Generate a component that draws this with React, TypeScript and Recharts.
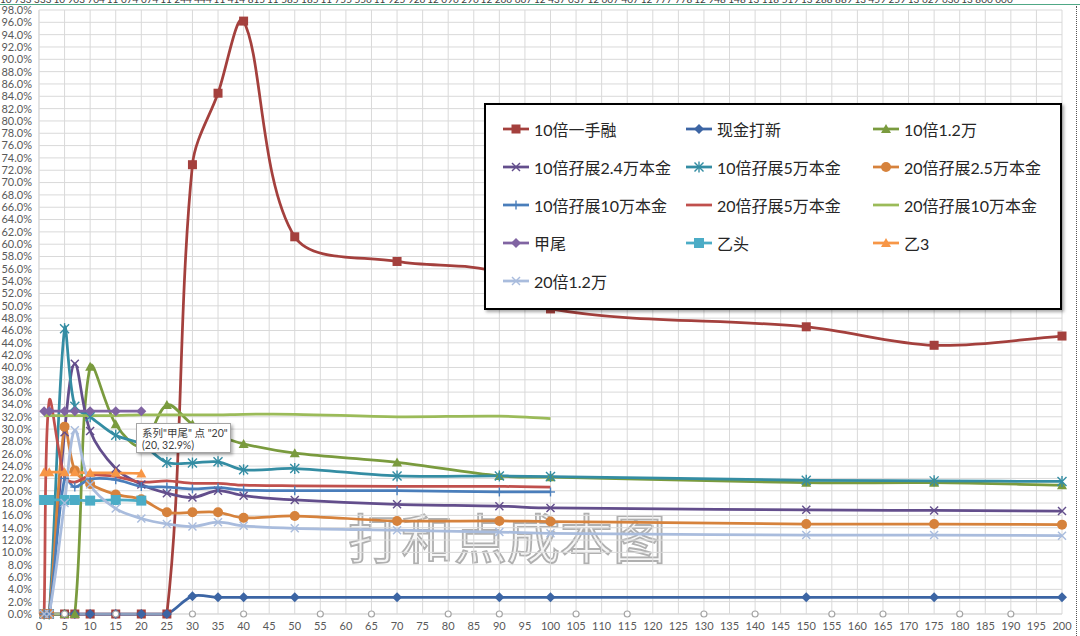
import React from 'react';
import { LineChart, Line, XAxis, YAxis, CartesianGrid } from 'recharts';

// x positions (shares / 万) used by the series
const X_ALL = [1, 2, 5, 7, 10, 15, 20, 25, 30, 35, 40, 50, 70, 90, 100, 150, 175, 200];
const X_TO_100 = [1, 2, 5, 7, 10, 15, 20, 25, 30, 35, 40, 50, 70, 90, 100];
const X_TO_20 = [1, 2, 5, 7, 10, 15, 20];
const X_EMPTY = [5, 15, 30, 40, 55, 65, 80, 90, 105, 115, 130, 140, 155, 165, 180, 190];

// break-even cost, in %
const tenXOneLot = [0, 0, 0, 0, 0, 0, 0, 0, 72.9, 84.5, 96.2, 61.2, 57.2, 55.4, 49.5, 46.6, 43.6, 45.1];
const cashSub = [0, 0, 0, 0, 0, 0, 0, 0, 2.9, 2.7, 2.7, 2.7, 2.7, 2.7, 2.7, 2.7, 2.7, 2.7];
const tenX12k = [0, 0, 0, 0, 40.1, 30.8, 27.2, 33.9, 30.8, 29.0, 27.6, 26.1, 24.6, 22.4, 22.2, 21.3, 21.3, 20.9];
const margin10x24k = [0, 0, 29.5, 40.6, 29.7, 23.6, 21.0, 19.6, 18.9, 20.0, 19.2, 18.5, 17.8, 17.5, 17.2, 16.9, 16.8, 16.7];
const margin10x50k = [0, 0, 46.3, 33.7, 32.0, 29.0, 27.6, 24.6, 24.5, 24.7, 23.4, 23.6, 22.4, 22.4, 22.3, 21.7, 21.6, 21.5];
const margin20x25k = [0, 0, 30.4, 23.3, 21.1, 19.4, 18.6, 16.5, 16.5, 16.5, 15.6, 15.9, 15.1, 15.1, 15.0, 14.6, 14.6, 14.5];
const margin10x100k = [0, 0, 22.0, 20.6, 21.9, 21.8, 20.7, 20.6, 20.3, 20.5, 20.1, 20.0, 20.0, 19.8, 19.8];
const margin20x50k = [0, 34.6, 22.2, 21.4, 22.5, 22.3, 21.4, 21.6, 21.2, 21.2, 20.9, 20.8, 20.7, 20.7, 20.6];
const margin20x100k = [32.2, 32.2, 32.2, 32.2, 32.2, 32.2, 32.3, 32.3, 32.3, 32.3, 32.4, 32.4, 32.0, 32.1, 31.7];
const jiaWei = [32.9, 32.9, 32.9, 32.9, 32.9, 32.9, 32.9];
const yiTou = [18.5, 18.5, 18.5, 18.5, 18.4, 18.5, 18.4];
const yi3 = [23.0, 23.0, 23.0, 23.0, 22.9, 22.9, 22.8];
const twentyX12k = [0, 0, 18.0, 29.8, 21.0, 17.1, 15.5, 14.6, 14.2, 14.9, 14.3, 13.9, 13.6, 13.3, 13.1, 12.8, 12.8, 12.7];
const emptyMarks = [0, 0, 0, 0, 0, 0, 0, 0, 0, 0, 0, 0, 0, 0, 0, 0];

const X_TICKS = Array.from({ length: 41 }, (_, i) => i * 5);
const Y_TICKS = Array.from({ length: 50 }, (_, i) => i * 2);

// half-hidden spreadsheet row above the chart
const topRowLabels = [
  '10 733 333', '10 903 704', '11 074 074', '11 244 444', '11 414 815', '11 585 185', '11 755 556',
  '11 925 926', '12 096 296', '12 266 667', '12 437 037', '12 607 407', '12 777 778', '12 948 148',
  '13 118 519', '13 288 889', '13 459 259', '13 629 630', '13 800 000',
];

type MarkerKind = 'square' | 'diamond' | 'triangle' | 'x' | 'star' | 'circle' | 'plus' | 'none' | 'hollow';

const SERIES: { name: string; xs: number[]; ys: number[]; color: string; marker: MarkerKind; size: number }[] = [
  { name: '10倍一手融', xs: X_ALL, ys: tenXOneLot, color: '#A4403D', marker: 'square', size: 9 },
  { name: '现金打新', xs: X_ALL, ys: cashSub, color: '#3C65A4', marker: 'diamond', size: 10 },
  { name: '10倍1.2万', xs: X_ALL, ys: tenX12k, color: '#7A9B3E', marker: 'triangle', size: 10 },
  { name: '10倍孖展2.4万本金', xs: X_ALL, ys: margin10x24k, color: '#634E8C', marker: 'x', size: 8 },
  { name: '10倍孖展5万本金', xs: X_ALL, ys: margin10x50k, color: '#348DA3', marker: 'star', size: 9 },
  { name: '20倍孖展2.5万本金', xs: X_ALL, ys: margin20x25k, color: '#D6823C', marker: 'circle', size: 10 },
  { name: '10倍孖展10万本金', xs: X_TO_100, ys: margin10x100k, color: '#4A7EBB', marker: 'plus', size: 9 },
  { name: '20倍孖展5万本金', xs: X_TO_100, ys: margin20x50k, color: '#C0504D', marker: 'none', size: 0 },
  { name: '20倍孖展10万本金', xs: X_TO_100, ys: margin20x100k, color: '#9BBB59', marker: 'none', size: 0 },
  { name: '甲尾', xs: X_TO_20, ys: jiaWei, color: '#8064A2', marker: 'diamond', size: 10 },
  { name: '乙头', xs: X_TO_20, ys: yiTou, color: '#4BACC6', marker: 'square', size: 10 },
  { name: '乙3', xs: X_TO_20, ys: yi3, color: '#F79646', marker: 'triangle', size: 10 },
  { name: '20倍1.2万', xs: X_ALL, ys: twentyX12k, color: '#A9BCDD', marker: 'x', size: 8 },
];

// Excel-like smoothing: bezier with tangents weighted by neighbouring segment lengths,
// kept from dipping under the lowest point of the series
function excelSmooth(context: any) {
  let pts: number[][] = [];
  return {
    areaStart() {},
    areaEnd() {},
    lineStart() {
      pts = [];
    },
    point(x: number, y: number) {
      pts.push([+x, +y]);
    },
    lineEnd() {
      const n = pts.length;
      if (!n) return;
      const floor = Math.max(...pts.map((p) => p[1]));
      const dist = (a: number[], b: number[]) => Math.hypot(b[0] - a[0], b[1] - a[1]);
      context.moveTo(pts[0][0], pts[0][1]);
      for (let i = 0; i < n - 1; i++) {
        const p0 = pts[Math.max(i - 1, 0)];
        const p1 = pts[i];
        const p2 = pts[i + 1];
        const p3 = pts[Math.min(i + 2, n - 1)];
        const d01 = dist(p0, p1);
        const d12 = dist(p1, p2);
        const d23 = dist(p2, p3);
        const f1 = d01 + d12 > 0 ? d12 / (3 * (d01 + d12)) : 0;
        const f2 = d12 + d23 > 0 ? d12 / (3 * (d12 + d23)) : 0;
        const c1x = p1[0] + (p2[0] - p0[0]) * f1;
        const c1y = Math.min(p1[1] + (p2[1] - p0[1]) * f1, floor);
        const c2x = p2[0] - (p3[0] - p1[0]) * f2;
        const c2y = Math.min(p2[1] - (p3[1] - p1[1]) * f2, floor);
        context.bezierCurveTo(c1x, c1y, c2x, c2y, p2[0], p2[1]);
      }
    },
  };
}

function Marker({ cx, cy, kind, color, size }: { cx: number; cy: number; kind: MarkerKind; color: string; size: number }) {
  if (cx == null || cy == null || kind === 'none') return null;
  const h = size / 2;
  switch (kind) {
    case 'square':
      return <rect x={cx - h} y={cy - h} width={size} height={size} fill={color} />;
    case 'diamond':
      return <polygon points={`${cx},${cy - h} ${cx + h},${cy} ${cx},${cy + h} ${cx - h},${cy}`} fill={color} />;
    case 'triangle':
      return <polygon points={`${cx},${cy - h} ${cx + h},${cy + h * 0.8} ${cx - h},${cy + h * 0.8}`} fill={color} />;
    case 'circle':
      return <circle cx={cx} cy={cy} r={h} fill={color} />;
    case 'x':
      return (
        <g stroke={color} strokeWidth={1.4}>
          <line x1={cx - h} y1={cy - h} x2={cx + h} y2={cy + h} />
          <line x1={cx - h} y1={cy + h} x2={cx + h} y2={cy - h} />
        </g>
      );
    case 'star':
      return (
        <g stroke={color} strokeWidth={1.4}>
          <line x1={cx - h} y1={cy - h} x2={cx + h} y2={cy + h} />
          <line x1={cx - h} y1={cy + h} x2={cx + h} y2={cy - h} />
          <line x1={cx} y1={cy - h - 1} x2={cx} y2={cy + h + 1} />
        </g>
      );
    case 'plus':
      return (
        <g stroke={color} strokeWidth={1.4}>
          <line x1={cx - h} y1={cy} x2={cx + h} y2={cy} />
          <line x1={cx} y1={cy - h} x2={cx} y2={cy + h} />
        </g>
      );
    case 'hollow':
      return <circle cx={cx} cy={cy} r={3} fill="#fff" stroke="#A6A6A6" strokeWidth={1.2} />;
    default:
      return null;
  }
}

const axisFont = { fontFamily: 'Lato, "Noto Sans CJK SC", sans-serif', fontSize: 11, fill: '#595959' };

function LegendBox() {
  const colLeft = [17, 200, 387];
  return (
    <div
      style={{
        position: 'absolute',
        left: 484,
        top: 103,
        width: 574,
        height: 203,
        border: '2px solid #000',
        background: '#fff',
        boxShadow: '2px 2px 3px rgba(0,0,0,0.35)',
        fontFamily: 'Lato, "Noto Sans CJK SC", sans-serif',
        fontSize: 16,
        color: '#262626',
      }}
    >
      {SERIES.map((s, i) => {
        const col = i % 3;
        const row = Math.floor(i / 3);
        return (
          <div
            key={s.name}
            style={{
              position: 'absolute',
              left: colLeft[col],
              top: 24 + row * 38 - 11,
              height: 22,
              display: 'flex',
              alignItems: 'center',
              whiteSpace: 'nowrap',
            }}
          >
            <svg width={26} height={14} style={{ marginRight: 5 }}>
              <line x1={0} y1={7} x2={26} y2={7} stroke={s.color} strokeWidth={2.75} />
              <Marker cx={13} cy={7} kind={s.marker} color={s.color} size={s.size} />
            </svg>
            <span>{s.name}</span>
          </div>
        );
      })}
    </div>
  );
}

export default function App() {
  return (
    <div style={{ position: 'absolute', left: 0, top: 0, width: 1080, height: 636, background: '#fff', overflow: 'hidden' }}>
      {/* cut-off row of the sheet above the chart */}
      <div style={{ position: 'absolute', left: 0, top: -7, height: 12, width: 1080, fontFamily: 'Lato, sans-serif', fontSize: 10, lineHeight: '12px', color: '#404040' }}>
        {topRowLabels.map((t, i) => (
          <span key={t} style={{ position: 'absolute', left: i * 53.4, top: 0, whiteSpace: 'nowrap' }}>
            {t}
          </span>
        ))}
      </div>
      <div style={{ position: 'absolute', left: 0, top: 3.5, width: 1080, height: 1.5, background: '#4FA886' }} />
      <div style={{ position: 'absolute', left: 1076, top: 6, height: 630, borderLeft: '1px dotted #555' }} />

      {/* watermark */}
      <svg style={{ position: 'absolute', left: 0, top: 0 }} width={1080} height={636}>
        <text
          x={507}
          y={559}
          textAnchor="middle"
          fontFamily='"Noto Sans CJK SC", sans-serif'
          fontSize={53}
          fill="rgba(240,240,240,0.6)"
          stroke="#b0b0b0"
          strokeWidth={1.8}
        >
          打和点成本图
        </text>
      </svg>

      <div style={{ position: 'absolute', left: 0, top: 0 }}>
        <LineChart width={1080} height={636} margin={{ top: 10, right: 18, bottom: 2, left: 6 }}>
          <CartesianGrid stroke="#D9D9D9" />
          <XAxis
            type="number"
            dataKey="x"
            domain={[0, 200]}
            ticks={X_TICKS}
            interval={0}
            height={20}
            tickLine={false}
            axisLine={{ stroke: '#D9D9D9' }}
            tick={axisFont}
          />
          <YAxis
            type="number"
            domain={[0, 98]}
            ticks={Y_TICKS}
            interval={0}
            width={33}
            tickLine={false}
            tickSize={5}
            axisLine={{ stroke: '#D9D9D9' }}
            tick={axisFont}
            tickFormatter={(v: number) => `${v.toFixed(1)}%`}
          />
          {SERIES.map((s) => (
            <Line
              key={s.name}
              name={s.name}
              data={s.xs.map((x, i) => ({ x, y: s.ys[i] }))}
              dataKey="y"
              type={excelSmooth as any}
              stroke={s.color}
              strokeWidth={2.75}
              dot={(p: any) => <Marker key={`${s.name}-${p.index}`} cx={p.cx} cy={p.cy} kind={s.marker} color={s.color} size={s.size} />}
              activeDot={false}
              isAnimationActive={false}
            />
          ))}
          <Line
            name="empty"
            data={X_EMPTY.map((x, i) => ({ x, y: emptyMarks[i] }))}
            dataKey="y"
            stroke="none"
            legendType="none"
            dot={(p: any) => <Marker key={`e-${p.index}`} cx={p.cx} cy={p.cy} kind="hollow" color="#A6A6A6" size={6} />}
            activeDot={false}
            isAnimationActive={false}
          />
        </LineChart>
      </div>

      <LegendBox />

      {/* static data-tip left on the sheet */}
      <div
        style={{
          position: 'absolute',
          left: 136,
          top: 423,
          width: 95,
          height: 30,
          border: '1px solid #A6A6A6',
          background: '#fff',
          boxShadow: '2px 2px 3px rgba(0,0,0,0.3)',
          fontFamily: 'Lato, "Noto Sans CJK SC", sans-serif',
          fontSize: 10.5,
          lineHeight: '12px',
          color: '#404040',
          padding: '3px 0 0 5px',
          boxSizing: 'border-box',
          whiteSpace: 'nowrap',
        }}
      >
        <div>系列"甲尾" 点 "20"</div>
        <div>(20, 32.9%)</div>
      </div>
    </div>
  );
}
